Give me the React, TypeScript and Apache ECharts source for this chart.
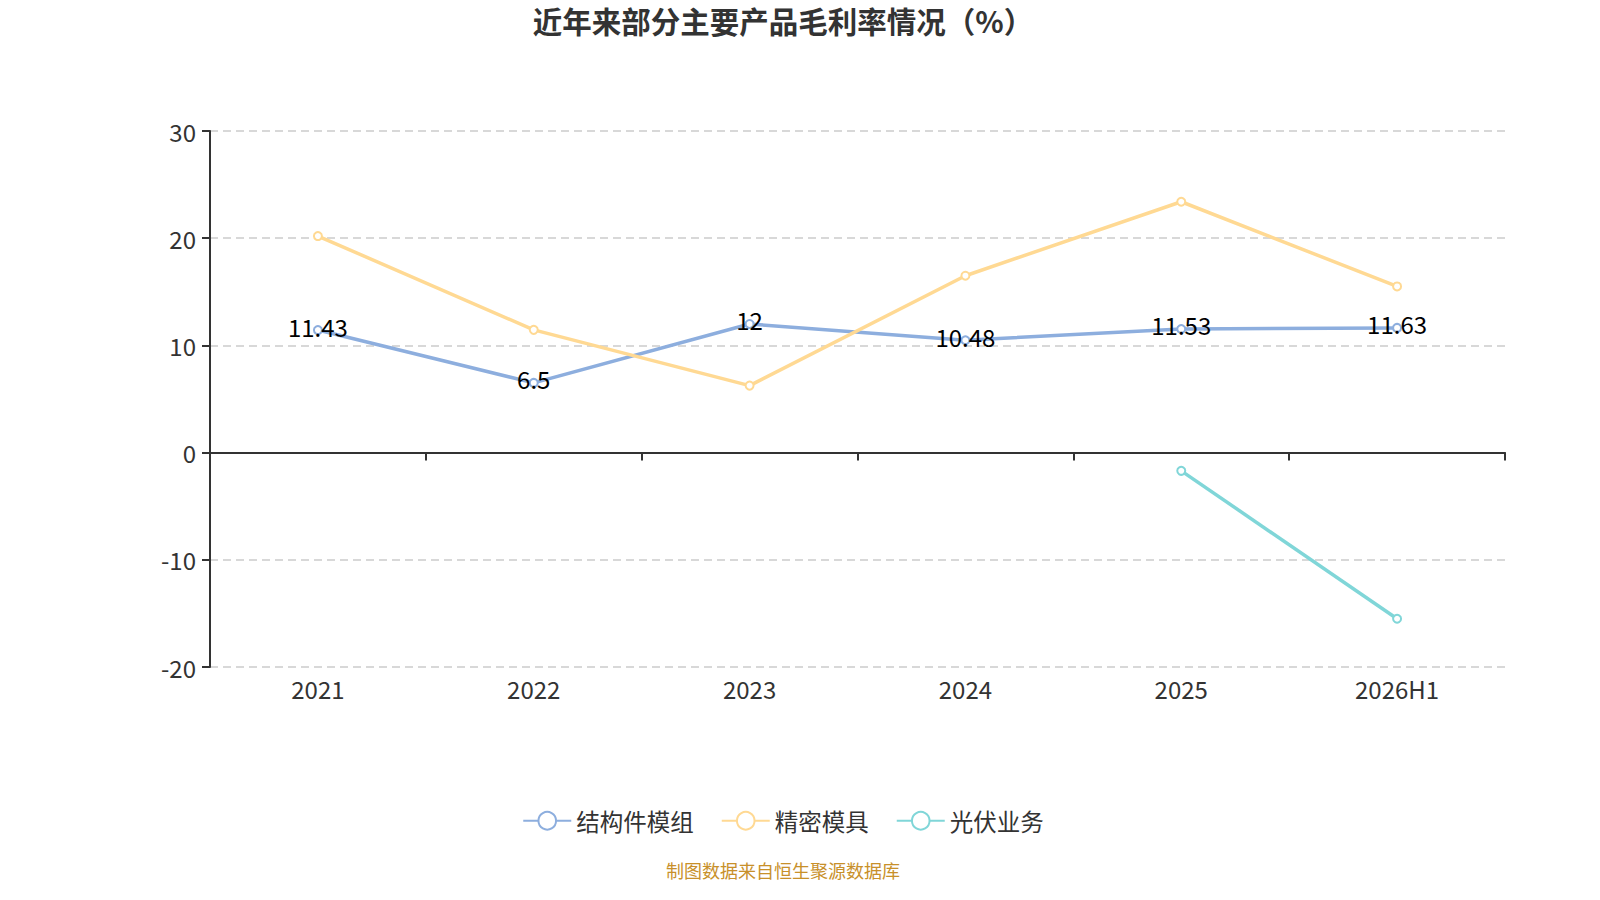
import React, { useEffect, useRef } from "react";
import * as echarts from "echarts";

const categories = ["2021", "2022", "2023", "2024", "2025", "2026H1"];
const structValues = [11.43, 6.5, 12, 10.48, 11.53, 11.63];
const moldValues = [20.2, 11.45, 6.25, 16.5, 23.4, 15.5];
const pvValues: (number | null)[] = [null, null, null, null, -1.7, -15.5];
const yTicks = { min: -20, max: 30, interval: 10 };

const FONT = "'Noto Sans CJK SC', 'Noto Sans', sans-serif";

export default function App() {
  const ref = useRef<HTMLDivElement>(null);
  useEffect(() => {
    if (!ref.current) return;
    const chart = echarts.init(ref.current, undefined, { renderer: "svg" });
    const lineSeries = (name: string, data: (number | null)[], color: string, label: boolean) => ({
      name,
      type: "line",
      data,
      xAxisIndex: 0,
      symbol: "emptyCircle",
      symbolSize: 8,
      lineStyle: { width: 3.5, color },
      itemStyle: { color },
      label: label
        ? { show: true, position: "inside", fontSize: 24, color: "#000", fontFamily: FONT, offset: [0, -4] }
        : { show: false },
    });
    chart.setOption({
      animation: false,
      textStyle: { fontFamily: FONT },
      title: {
        text: "近年来部分主要产品毛利率情况（%）",
        left: "center",
        top: 0,
        padding: 5,
        textStyle: { fontSize: 29.5, fontWeight: "bold", color: "#333", fontFamily: FONT },
      },
      legend: {
        top: 804,
        left: "center",
        itemWidth: 48,
        itemHeight: 22,
        itemGap: 27,
        textStyle: { fontSize: 23.5, color: "#333", fontFamily: FONT },
        data: ["结构件模组", "精密模具", "光伏业务"],
      },
      grid: { left: 202, right: 53, top: 131, bottom: 233, containLabel: false },
      xAxis: [
        {
          type: "category",
          data: categories,
          position: "bottom",
          axisLine: { onZero: true, lineStyle: { color: "#333", width: 2 } },
          axisTick: { show: true, length: 8, lineStyle: { color: "#333", width: 2 } },
          axisLabel: { show: false },
        },
        {
          type: "category",
          data: categories,
          position: "bottom",
          axisLine: { show: false, onZero: false },
          axisTick: { show: false },
          axisLabel: { show: true, fontSize: 24, color: "#333", margin: 9, fontFamily: FONT },
        },
      ],
      yAxis: {
        type: "value",
        min: yTicks.min,
        max: yTicks.max,
        interval: yTicks.interval,
        axisLine: { show: true, lineStyle: { color: "#333", width: 2 } },
        axisTick: { show: true, length: 8, lineStyle: { color: "#333", width: 2 } },
        axisLabel: { fontSize: 24, color: "#333", margin: 14, fontFamily: FONT },
        splitLine: { show: true, lineStyle: { type: [8, 5], color: "#ccc", width: 1.5 } },
      },
      series: [
        lineSeries("结构件模组", structValues, "#8DAEDE", true),
        lineSeries("精密模具", moldValues, "#FFD993", false),
        lineSeries("光伏业务", pvValues, "#80D6D8", false),
      ],
      graphic: [
        {
          type: "text",
          left: "center",
          top: 861,
          style: { text: "制图数据来自恒生聚源数据库", fontSize: 18, fill: "#C8902A", fontFamily: FONT },
        },
      ],
    });
    return () => chart.dispose();
  }, []);
  return <div ref={ref} style={{ position: "absolute", top: 0, left: 8, width: 1550, height: 900 }} />;
}
